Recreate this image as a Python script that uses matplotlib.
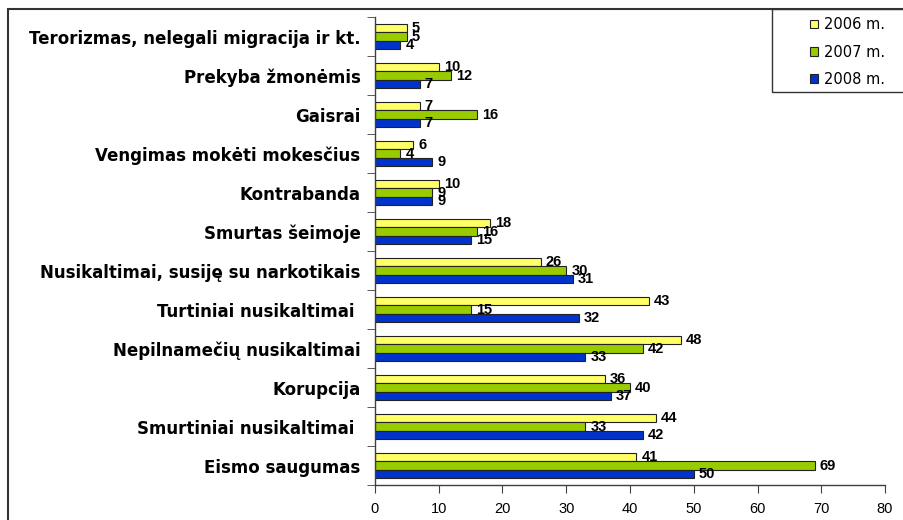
import numpy as np
import matplotlib
matplotlib.use("Agg")
import matplotlib.pyplot as plt
from matplotlib.patches import Rectangle, Patch

plt.rcParams['font.family'] = ['Liberation Sans', 'DejaVu Sans']

# categories, top to bottom as shown
categories = [
    "Terorizmas, nelegali migracija ir kt.",
    "Prekyba žmonėmis",
    "Gaisrai",
    "Vengimas mokėti mokesčius",
    "Kontrabanda",
    "Smurtas šeimoje",
    "Nusikaltimai, susiję su narkotikais",
    "Turtiniai nusikaltimai ",
    "Nepilnamečių nusikaltimai",
    "Korupcija",
    "Smurtiniai nusikaltimai ",
    "Eismo saugumas",
]
y2006 = [5, 10, 7, 6, 10, 18, 26, 43, 48, 36, 44, 41]
y2007 = [5, 12, 16, 4, 9, 16, 30, 15, 42, 40, 33, 69]
y2008 = [4, 7, 7, 9, 9, 15, 31, 32, 33, 37, 42, 50]
series_names = ["2006 m.", "2007 m.", "2008 m."]
colors = ["#FFFF66", "#99CC00", "#0033CC"]

fig = plt.figure(figsize=(9.04, 5.2), dpi=100)
ax = fig.add_axes([375 / 904, 1 - 485 / 520, 510 / 904, 468 / 520])

n = len(categories)
pos = np.arange(n)
h = 0.222
for i, (vals, c) in enumerate(zip([y2006, y2007, y2008], colors)):
    yy = pos + (i - 1) * h
    ax.barh(yy, vals, height=h, color=c, edgecolor="#222222", linewidth=0.8)
    for y, v in zip(yy, vals):
        ax.text(v + 0.8, y, str(v), va="center", ha="left",
                fontsize=10.5, fontweight="bold")

ax.set_ylim(n - 0.5, -0.5)
ax.set_xlim(0, 80)
ax.set_yticks(pos)
ax.set_yticklabels(categories, fontsize=12, fontweight="bold",
                   family=["DejaVu Sans"])
ax.set_yticks(np.arange(-0.5, n, 1), minor=True)
ax.tick_params(axis="y", which="major", length=0, pad=10.5)
ax.tick_params(axis="y", which="minor", length=6, color="#404040")
ax.set_xticks(np.arange(0, 81, 10))
ax.tick_params(axis="x", length=6, pad=6, labelsize=10.5, color="#404040")
for s in ["top", "right"]:
    ax.spines[s].set_visible(False)
for s in ["left", "bottom"]:
    ax.spines[s].set_color("#404040")
    ax.spines[s].set_linewidth(1.0)

# outer border (cropped at right/bottom) and legend box
top = 1 - 9 / 520
fig.patches.append(Rectangle((8 / 904, -0.2), 1.2, top + 0.2,
                             transform=fig.transFigure, fill=False,
                             edgecolor="#333333", linewidth=1.5))
fig.patches.append(Rectangle((772 / 904, 1 - 92 / 520), 0.5, 83 / 520,
                             transform=fig.transFigure, fill=False,
                             edgecolor="#333333", linewidth=1.0))
handles = [Patch(facecolor=c, edgecolor="#222222", linewidth=0.8) for c in colors]
fig.legend(handles, series_names, loc="upper left",
           bbox_to_anchor=(800 / 904, 1 - 7 / 520), frameon=False,
           prop={"family": "DejaVu Sans", "size": 10.5},
           handlelength=0.55, handleheight=0.55,
           handletextpad=0.4, labelspacing=0.85, borderpad=0.2)

fig.savefig("out.png", dpi=100)
